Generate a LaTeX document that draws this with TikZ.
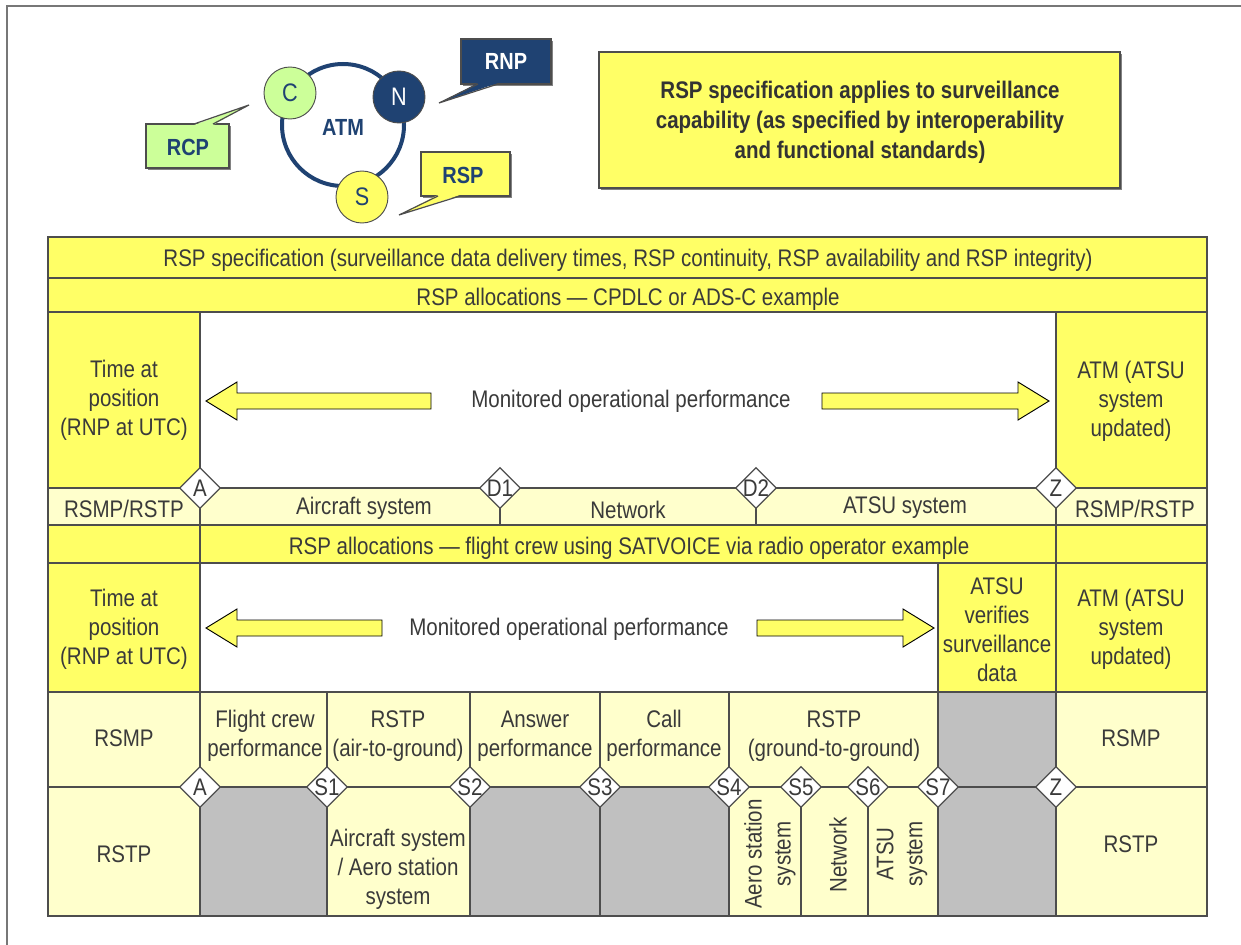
\documentclass[tikz,border=0pt]{standalone}
\usepackage{fontspec}
\setmainfont{Liberation Sans}[FakeStretch=0.855]
\usetikzlibrary{shapes.geometric}
\definecolor{ylw}{HTML}{FFFF66}
\definecolor{lylw}{HTML}{FFFFCC}
\definecolor{greycell}{HTML}{C0C0C0}
\definecolor{bdr}{HTML}{4D4D4D}
\definecolor{textgrey}{HTML}{3A3A3A}
\definecolor{navy}{HTML}{1F4272}
\definecolor{lgreen}{HTML}{CCFF99}
\definecolor{framegrey}{HTML}{777777}
\newcommand{\mainsz}{\fontsize{18}{21.75}\selectfont}
\newcommand{\logosz}{\fontsize{17.5}{20}\selectfont}
\begin{document}
\begin{tikzpicture}[x=0.75pt,y=-0.75pt,
  cY/.style={fill=ylw, draw=bdr, line width=0.9pt},
  cL/.style={fill=lylw, draw=bdr, line width=0.9pt},
  cW/.style={fill=white, draw=bdr, line width=0.9pt},
  cG/.style={fill=greycell, draw=bdr, line width=0.9pt},
  lab/.style={text=textgrey, align=center, font=\mainsz, inner sep=0pt, yshift=-1.5pt},
  dia/.style={diamond, aspect=1, draw=bdr, fill=white, line width=0.9pt, minimum width=30.75pt, minimum height=30.75pt, inner sep=0pt},
  dtxt/.style={text=textgrey, font=\mainsz, inner sep=0pt},
  barrow/.style={fill=ylw, draw=black, line width=0.7pt, line join=miter},
  callout/.style={draw=bdr, line width=0.9pt},
  dot/.style={circle, draw=bdr, line width=0.7pt, minimum size=39pt, inner sep=0pt, font=\fontsize{19}{20}\selectfont}
]
\useasboundingbox (0,0) rectangle (1241,945);
\fill[white] (0,0) rectangle (1241,945);
% outer frame
\draw[framegrey, line width=1.3pt] (7,945) -- (7,6) -- (1241,6);

% ---------- logo ----------
\node[circle, draw=navy, line width=3pt, minimum size=91.5pt, inner sep=0pt] (ring) at (343,125) {};
\node[text=navy, font=\logosz\bfseries] (atm) at (343,127) {ATM};
\node[dot, fill=lgreen, text=navy] (cC) at (290,93) {C};
\node[dot, fill=navy, text=white] (cN) at (399,97) {N};
\node[dot, fill=ylw, text=navy] (cS) at (362,197) {S};

% RNP callout
\fill[bdr!70] (463,41) rectangle (553,86);
\path[callout, fill=navy] (461,39) rectangle (551,84);
\fill[navy] (478,83) -- (439,103) -- (498,83) -- cycle;
\draw[bdr, line width=0.9pt] (478,84) -- (439,103) -- (498,84);
\node[text=white, font=\logosz\bfseries] (rnp) at (506,61) {RNP};
% RCP callout
\fill[bdr!70] (148,126) rectangle (231,170);
\path[callout, fill=lgreen] (146,124) rectangle (229,168);
\fill[lgreen] (194,125) -- (249,105) -- (213,125) -- cycle;
\draw[bdr, line width=0.9pt] (194,124) -- (249,105) -- (213,124);
\node[text=navy, font=\logosz\bfseries] (rcp) at (188,147) {RCP};
% RSP callout
\fill[bdr!70] (423,154) rectangle (512,198);
\path[callout, fill=ylw] (421,152) rectangle (510,196);
\fill[ylw] (438,195) -- (399,215) -- (460,195) -- cycle;
\draw[bdr, line width=0.9pt] (438,196) -- (399,215) -- (460,196);
\node[text=navy, font=\logosz\bfseries] (rspc) at (463,175) {RSP};

% top right box
\fill[bdr!70] (601,54) rectangle (1122,190);
\path[callout, fill=ylw] (599,52) rectangle (1120,188);
\node[lab, font=\fontsize{18}{22.5}\selectfont\bfseries, text=black!80] (spec) at (860,120) {RSP specification applies to surveillance\\capability (as specified by interoperability\\and functional standards)};

% ---------- table ----------
% row 1-2
\path[cY] (48,237) rectangle (1207,278);
\path[cY] (48,278) rectangle (1207,312);
% row 3
\path[cY] (48,312) rectangle (200,488);
\path[cW] (200,312) rectangle (1056,488);
\path[cY] (1056,312) rectangle (1207,488);
% row 4
\path[cL] (48,488) rectangle (200,525);
\path[cL] (200,488) rectangle (500,525);
\path[cL] (500,488) rectangle (756,525);
\path[cL] (756,488) rectangle (1056,525);
\path[cL] (1056,488) rectangle (1207,525);
% row 5
\path[cY] (48,525) rectangle (200,563);
\path[cY] (200,525) rectangle (1056,563);
\path[cY] (1056,525) rectangle (1207,563);
% row 6
\path[cY] (48,563) rectangle (200,692);
\path[cW] (200,563) rectangle (938,692);
\path[cY] (938,563) rectangle (1056,692);
\path[cY] (1056,563) rectangle (1207,692);
% row 7
\path[cL] (48,692) rectangle (200,787);
\path[cL] (200,692) rectangle (327,787);
\path[cL] (327,692) rectangle (470,787);
\path[cL] (470,692) rectangle (600,787);
\path[cL] (600,692) rectangle (729,787);
\path[cL] (729,692) rectangle (938,787);
\path[cG] (938,692) rectangle (1056,787);
\path[cL] (1056,692) rectangle (1207,787);
% row 8
\path[cL] (48,787) rectangle (200,916);
\path[cG] (200,787) rectangle (327,916);
\path[cL] (327,787) rectangle (470,916);
\path[cG] (470,787) rectangle (600,916);
\path[cG] (600,787) rectangle (729,916);
\path[cL] (729,787) rectangle (801,916);
\path[cL] (801,787) rectangle (868,916);
\path[cL] (868,787) rectangle (938,916);
\path[cG] (938,787) rectangle (1056,916);
\path[cL] (1056,787) rectangle (1207,916);
% outer border
\draw[bdr, line width=1.6pt] (48,237) rectangle (1207,916);

% arrows row 3
\draw[barrow] (431,393) -- (237,393) -- (237,382) -- (206,401) -- (237,420) -- (237,409) -- (431,409) -- cycle;
\draw[barrow] (822,393) -- (1018,393) -- (1018,382) -- (1049,401) -- (1018,420) -- (1018,409) -- (822,409) -- cycle;
% arrows row 6
\draw[barrow] (382,620) -- (237,620) -- (237,609) -- (206,628) -- (237,647) -- (237,636) -- (382,636) -- cycle;
\draw[barrow] (757,620) -- (903,620) -- (903,609) -- (934,628) -- (903,647) -- (903,636) -- (757,636) -- cycle;

% texts
\node[lab] (t1) at (628,258) {RSP specification (surveillance data delivery times, RSP continuity, RSP availability and RSP integrity)};
\node[lab] (t2) at (628,297) {RSP allocations — CPDLC or ADS-C example};
\node[lab] (t3l) at (124,398) {Time at\\position\\(RNP at UTC)};
\node[lab] (t3m) at (631,399) {Monitored operational performance};
\node[lab] (t3r) at (1131,399) {ATM (ATSU\\system\\updated)};
\node[lab] (t4a) at (124,507) {RSMP/RSTP};
\node[lab] (t4b) at (364,506) {Aircraft system};
\node[lab] (t4c) at (628,508) {Network};
\node[lab] (t4d) at (905,506) {ATSU system};
\node[lab] (t4e) at (1135,507) {RSMP/RSTP};
\node[lab] (t5) at (629,546) {RSP allocations — flight crew using SATVOICE via radio operator example};
\node[lab] (t6l) at (124,627) {Time at\\position\\(RNP at UTC)};
\node[lab] (t6m) at (569,627) {Monitored operational performance};
\node[lab] (t6v) at (997,628) {ATSU\\verifies\\surveillance\\data};
\node[lab] (t6r) at (1131,627) {ATM (ATSU\\system\\updated)};
\node[lab] (t7a) at (124,736) {RSMP};
\node[lab] (t7b) at (265,734) {Flight crew\\performance};
\node[lab] (t7c) at (398,734) {RSTP\\(air-to-ground)};
\node[lab] (t7d) at (535,734) {Answer\\performance};
\node[lab] (t7e) at (664,734) {Call\\performance};
\node[lab] (t7f) at (834,734) {RSTP\\(ground-to-ground)};
\node[lab] (t7g) at (1131,736) {RSMP};
\node[lab] (t8a) at (124,852) {RSTP};
\node[lab] (t8b) at (398,867) {Aircraft system\\/ Aero station\\system};
\node[lab, rotate=90, xshift=-1.5pt, yshift=1.5pt] (t8c) at (772,850) {Aero station\\system};
\node[lab, rotate=90, xshift=-1.5pt, yshift=1.5pt] (t8d) at (840,851) {Network};
\node[lab, rotate=90, xshift=-1.5pt, yshift=1.5pt] (t8e) at (904,850) {ATSU\\system};
\node[lab] (t8f) at (1131,842) {RSTP};

% diamonds
\foreach \nm/\xx/\yy/\tx in {dA1/200/488/A, dD1/500/488/D1, dD2/756/488/D2, dZ1/1056/488/Z,
  dA2/200/787/A, dS1/327/787/S1, dS2/470/787/S2, dS3/600/787/S3, dS4/729/787/S4,
  dS5/801/787/S5, dS6/868/787/S6, dS7/938/787/S7, dZ2/1056/787/Z}{
  \node[dia] (\nm) at (\xx,\yy) {};
  \node[dtxt] (\nm t) at (\nm) {\tx};
}
\end{tikzpicture}
\end{document}
